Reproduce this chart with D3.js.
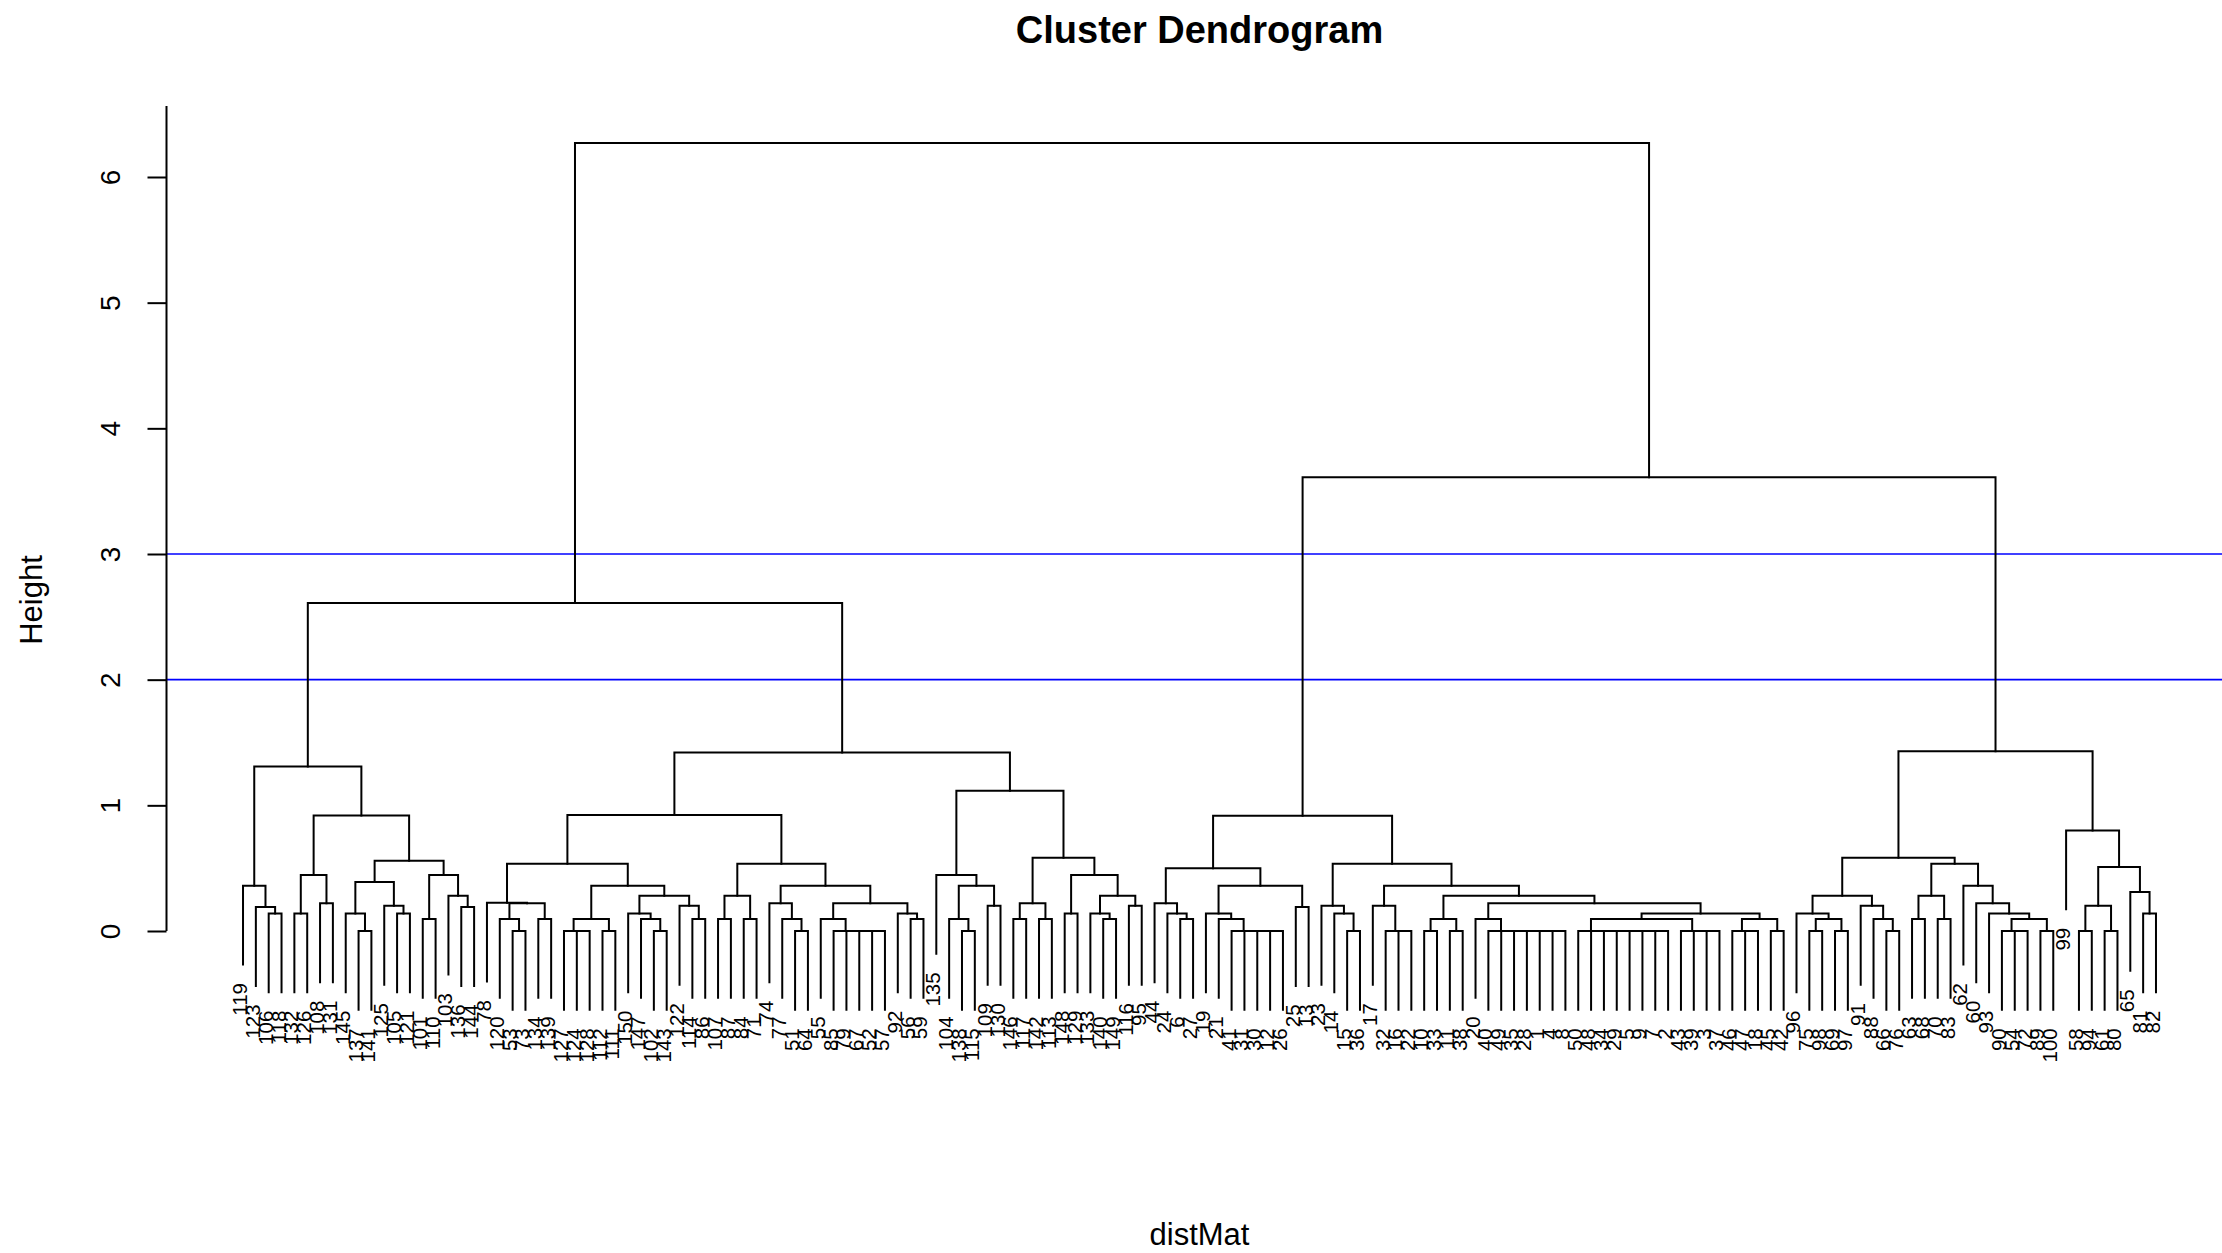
<!DOCTYPE html>
<html>
<head>
<meta charset="utf-8">
<title>Cluster Dendrogram</title>
<script src="https://cdn.jsdelivr.net/npm/d3@7"></script>
<style>
  html, body { margin: 0; padding: 0; background: #ffffff; }
  svg { display: block; }
</style>
</head>
<body>
<script>
// Leaf labels, left to right (observation numbers).
const leafLabels = [
  119, 123, 106, 118, 132, 126, 108, 131, 145, 137, 141, 125, 105, 121, 101, 110, 103, 136, 144,
  78, 120, 53, 73, 134, 139, 127, 124, 128, 112, 111, 150, 147, 102, 143, 122, 114, 86,
  107, 87, 84, 71, 74, 77, 51, 64, 55, 85, 79, 67, 52, 57, 92, 56, 59,
  135, 104, 138, 115, 109, 130,
  146, 117, 142, 113, 148, 129, 133, 140, 149, 116, 95,
  44, 24, 6, 27, 19, 21, 41, 31, 30, 12, 26, 25, 13, 23, 14, 15, 36, 17, 32, 16, 22, 10, 33, 11, 38,
  20, 40, 49, 35, 28, 1, 4, 8, 50, 48, 34, 29, 5, 9, 7, 2, 43, 39, 3, 37, 46, 47, 18, 45, 42,
  96, 75, 98, 69, 97, 91, 88, 66, 76, 63, 68, 70, 83, 62, 60, 93, 90, 54, 72, 89, 100, 99, 58, 94,
  61, 80, 65, 81, 82
];

// Merge structure: "(a,b)h" joins a and b at height h; plain numbers are leaf positions.
const groupA = "((0,(1,(2,3)0.14)0.19)0.36,(((4,5)0.14,(6,7)0.22)0.445,(((8,(9,10)0)0.14,(11,(12,13)0.14)0.2)0.39,((14,15)0.095,(16,(17,18)0.19)0.28)0.445)0.56)0.92)1.31";
const groupE = "((19,((20,(21,22)0)0.095,(23,24)0.095)0.22)0.225,(((25,(26,27)0)0,(28,29)0)0.095,((30,(31,(32,33)0)0.095)0.14,(34,(35,36)0.095)0.2)0.28)0.36)0.535";
const groupF = "(((37,38)0.095,(39,40)0.095)0.28,((41,(42,(43,44)0)0.095)0.22,((45,(46,(47,(48,(49,50)0)0)0)0)0.095,(51,(52,53)0.095)0.14)0.22)0.36)0.535";
const groupG = "(54,((55,(56,57)0)0.095,(58,59)0.2)0.36)0.445";
const groupH = "(((60,61)0.095,(62,63)0.095)0.22,((64,65)0.14,((66,(67,68)0.095)0.14,(69,70)0.2)0.28)0.445)0.583";
const groupU = "((71,(72,(73,74)0.095)0.14)0.22,((75,(76,(77,(78,(79,(80,81)0)0)0)0)0.095)0.14,(82,83)0.19)0.36)0.5";
const groupV = "((84,(85,(86,87)0)0.14)0.2,((88,(89,(90,91)0)0)0.2,(((92,93)0,(94,95)0)0.095,((96,(97,(98,(99,(100,(101,(102,103)0)0)0)0)0)0)0.095,(((104,(105,(106,(107,(108,(109,(110,111)0)0)0)0)0)0)0,(112,(113,(114,115)0)0)0)0.095,((116,(117,118)0)0,(119,120)0)0.095)0.14)0.22)0.28)0.36)0.535";
const groupW = "(((121,((122,123)0,(124,125)0)0.095)0.14,(126,(127,(128,129)0)0.095)0.2)0.28,(((130,131)0.095,(132,133)0.095)0.28,(134,(135,(136,((137,(138,139)0)0,(140,141)0)0.095)0.14)0.22)0.36)0.535)0.583";
const groupX = "(142,(((143,144)0,(145,146)0)0.2,(147,(148,149)0.14)0.31)0.51)0.8";

const leftCluster  = `(${groupA},((${groupE},${groupF})0.923,(${groupG},${groupH})1.116)1.42)2.61`;
const rightCluster = `((${groupU},${groupV})0.917,(${groupW},${groupX})1.43)3.61`;
const treeText = `(${leftCluster},${rightCluster})6.27`;

const yTicks = [0, 1, 2, 3, 4, 5, 6];
const cutHeights = [2, 3];

const titleText = "Cluster Dendrogram";
const xLabel = "distMat";
const yLabel = "Height";

// ---- parse the merge string into a nested object ----
function parseTree(src) {
  const s = src.replace(/\s+/g, "");
  let i = 0;
  function number() {
    const m = /^[0-9.]+/.exec(s.slice(i));
    i += m[0].length;
    return +m[0];
  }
  function node() {
    if (s[i] === "(") {
      i++;
      const a = node();
      i++; // ,
      const b = node();
      i++; // )
      return { height: number(), children: [a, b] };
    }
    const idx = number();
    return { index: idx, label: String(leafLabels[idx]) };
  }
  return node();
}

// ---- page geometry ----
const W = 2222, H = 1253;
const plotLeft = 166.5, plotRight = 2232.5, plotTop = 106;
const font = "'Liberation Sans', Arial, Helvetica, sans-serif";

const svg = d3.select("body").append("svg")
  .attr("width", W).attr("height", H)
  .style("background", "#ffffff");

const data = parseTree(treeText);
const root = d3.hierarchy(data);
const nLeaves = root.leaves().length;

// Evenly spaced leaves, parents at the midpoint of their children.
d3.cluster().separation(() => 1).size([nLeaves, 1])(root);

const pad = 0.04 * (nLeaves - 1);
const x = d3.scaleLinear()
  .domain([0.5 - pad, nLeaves - 0.5 + pad])
  .range([plotLeft, plotRight]);

const y = d3.scaleLinear().domain([0, 6]).range([931, 177]);

const maxHeight = root.data.height;
const hang = 0.1 * maxHeight;

function topOf(child, parent) {
  return child.children ? child.data.height : parent.data.height - hang;
}

// ---- cut lines ----
svg.append("g").selectAll("line").data(cutHeights).join("line")
  .attr("x1", plotLeft).attr("x2", W)
  .attr("y1", d => y(d)).attr("y2", d => y(d))
  .attr("stroke", "#0000ff").attr("stroke-width", 1.6);

// ---- branches ----
const internal = root.descendants().filter(d => d.children);
svg.append("g")
  .attr("fill", "none").attr("stroke", "#000").attr("stroke-width", 2)
  .attr("stroke-linejoin", "miter").attr("stroke-linecap", "square")
  .selectAll("path").data(internal).join("path")
  .attr("d", d => {
    const [a, b] = d.children;
    return `M${x(a.x)},${y(topOf(a, d))}V${y(d.data.height)}H${x(b.x)}V${y(topOf(b, d))}`;
  });

// ---- leaf labels ----
svg.append("g")
  .attr("font-family", font).attr("font-size", 20.5).attr("fill", "#000")
  .selectAll("text").data(root.leaves()).join("text")
  .attr("text-anchor", "end")
  .attr("transform", d => `translate(${x(d.x) + 4},${y(d.parent.data.height - hang) + 18.5}) rotate(-90)`)
  .text(d => d.data.label);

// ---- y axis ----
const axis = svg.append("g")
  .attr("transform", `translate(${plotLeft},0)`)
  .call(d3.axisLeft(y).tickValues(yTicks).tickFormat(d3.format("d")).tickSize(19).tickSizeOuter(0));
axis.select(".domain").remove();
axis.selectAll(".tick line").attr("stroke", "#000").attr("stroke-width", 2);
axis.selectAll(".tick text")
  .attr("x", null).attr("dy", null)
  .attr("text-anchor", "middle")
  .attr("transform", "translate(-47,0) rotate(-90)")
  .attr("font-family", font).attr("font-size", 28).attr("fill", "#000");
axis.append("line")
  .attr("x1", 0).attr("x2", 0)
  .attr("y1", y(0)).attr("y2", plotTop)
  .attr("stroke", "#000").attr("stroke-width", 2);

// ---- titles ----
svg.append("text")
  .attr("x", (plotLeft + plotRight) / 2).attr("y", 43)
  .attr("text-anchor", "middle")
  .attr("font-family", font).attr("font-weight", "bold").attr("font-size", 38)
  .text(titleText);

svg.append("text")
  .attr("x", (plotLeft + plotRight) / 2).attr("y", 1245)
  .attr("text-anchor", "middle")
  .attr("font-family", font).attr("font-size", 31)
  .text(xLabel);

svg.append("text")
  .attr("transform", "translate(42,600) rotate(-90)")
  .attr("text-anchor", "middle")
  .attr("font-family", font).attr("font-size", 31)
  .text(yLabel);
</script>
</body>
</html>
